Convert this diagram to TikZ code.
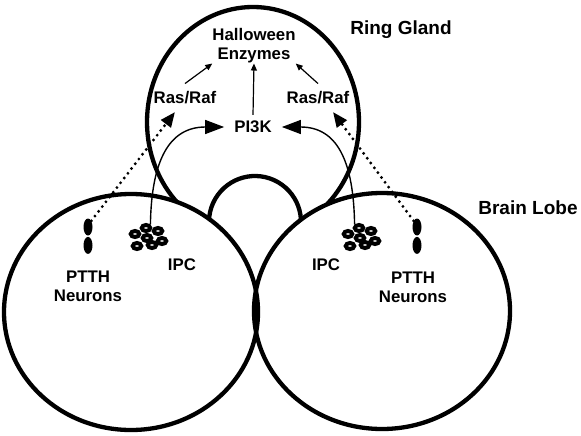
\documentclass[tikz,border=0pt]{standalone}
\usepackage{fontspec}
\setmainfont{Liberation Sans}
\usetikzlibrary{arrows.meta,positioning,shapes.geometric}
\tikzset{
  organ/.style ={line width=4.3pt},
  lbl/.style   ={font=\fontsize{16.8}{19}\selectfont\bfseries, align=center, inner sep=2pt},
  big/.style   ={font=\fontsize{19}{21}\selectfont\bfseries, inner sep=2pt},
  cell/.style  ={ellipse, draw, fill=white, line width=4pt, minimum width=8.5pt,
                 minimum height=6pt, inner sep=0pt},
  ptth/.style  ={ellipse, fill=black, minimum width=9pt, minimum height=17pt, inner sep=0pt},
  ar/.style    ={-{Triangle[length=7pt,width=6pt]}, line width=1.2pt},
  arb/.style   ={-{Triangle[length=19pt,width=14pt]}, line width=1.4pt},
  dotar/.style ={-{Triangle[length=15pt,width=12pt]}, line width=3.2pt, line cap=round,
                 dash pattern=on 0pt off 6pt}
}

\begin{document}
\begin{tikzpicture}[x=1pt, y=-1pt]
\useasboundingbox (0,0) rectangle (581,436);
% ring gland, bump and brain lobes
\draw[organ] (253,122) ellipse [x radius=106pt, y radius=115pt];
\fill[white] (255,222) circle [radius=46pt];
\draw[organ] (255,222) ++(120:46) arc [start angle=120, end angle=420, radius=46];
\fill[white] (131,312) ellipse [x radius=127pt, y radius=118pt];
\fill[white] (382,311) ellipse [x radius=128pt, y radius=118pt];
\draw[organ] (131,312) ellipse [x radius=127pt, y radius=118pt];
\draw[organ] (382,311) ellipse [x radius=128pt, y radius=118pt];

\node[big] (rg) at (401,30) {Ring Gland};
\node[big] (bl) at (528,208) {Brain Lobe};
\node[lbl, inner sep=0pt] (enz) at (254,46) {Halloween\\Enzymes};
\node[lbl, inner ysep=8pt] (rasL) at (185,98) {Ras/Raf};
\node[lbl, inner ysep=8pt] (rasR) at (318,98) {Ras/Raf};
\node[lbl, inner xsep=10pt, inner ysep=6pt] (pi3k) at (253,127) {PI3K};

% PTTH neurons
\node[ptth] (pL1) at (88,227) {};
\node[ptth, below=1pt of pL1] (pL2) {};
\node[ptth] (pR1) at (417,227) {};
\node[ptth, below=1pt of pR1] (pR2) {};
\node[lbl] (ntL) at (88,286) {PTTH\\Neurons};
\node[lbl] (ntR) at (413,287) {PTTH\\Neurons};

% IPC clusters
\foreach \s/\cx in {L/148, R/361}
  \foreach \dx/\dy [count=\i] in {-2/-9, 10/-6, -13/-3, -1/1, 14/4, -11/9, 4/8}
    \node[cell] (c\s\i) at (\cx+\dx, 237+\dy) {};
\node[lbl] (ipcL) at (182,265) {IPC};
\node[lbl] (ipcR) at (326,265) {IPC};

% connectors
\coordinate (tipL) at (175,112);
\coordinate (tipR) at (333,112);
\draw[dotar] (pL1.north east) -- (tipL);
\draw[dotar] (pR1.north west) -- (tipR);
\draw[arb] (cL1.north east) .. controls +(1,-64) and +(-55,0) .. (pi3k.west);
\draw[arb] (cR1.north west) .. controls +(-1,-64) and +(55,0) .. (pi3k.east);
\draw[ar] (rasL.north) -- (enz.south west);
\draw[ar] (rasR.north) -- (enz.south east);
\draw[ar] (pi3k.north) -- (enz.south);
\end{tikzpicture}
\end{document}
